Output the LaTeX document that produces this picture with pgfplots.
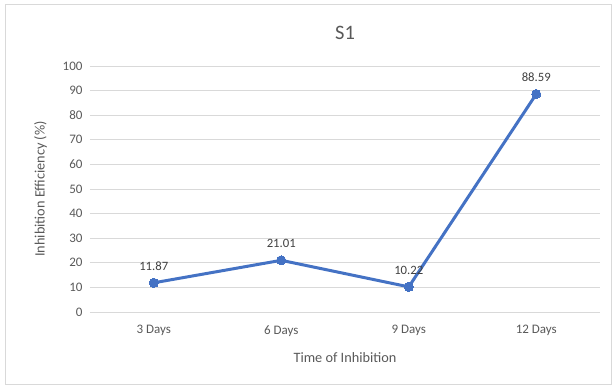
\documentclass[border=0pt]{standalone}
\usepackage{pgfplots}
\pgfplotsset{compat=1.18}
\usepackage{fontspec}
\setmainfont{Carlito}
\definecolor{lineblue}{HTML}{4472C4}
\definecolor{gridgray}{HTML}{D9D9D9}
\definecolor{textgray}{HTML}{595959}
\definecolor{labelgray}{HTML}{404040}
\begin{document}
\begin{tikzpicture}
\begin{axis}[
  scale only axis,
  width=510pt, height=246pt,
  xmin=-0.5, xmax=3.5,
  ymin=0, ymax=100,
  ytick={0,10,...,100},
  xtick={0,1,2,3},
  xticklabels={3 Days,6 Days,9 Days,12 Days},
  axis line style={draw=none},
  major tick length=0pt,
  ymajorgrids,
  grid style={gridgray, line width=0.9pt},
  tick label style={font=\fontsize{13}{15}\selectfont, text=textgray},
  /pgf/number format/assume math mode=true,
  yticklabel style={xshift=-4pt},
  xticklabel style={yshift=-10pt},
  xlabel={Time of Inhibition},
  ylabel={Inhibition Efficiency (\%)},
  label style={font=\fontsize{14.3}{16}\selectfont, text=textgray},
  xlabel style={yshift=-9pt},
  ylabel style={yshift=9pt},
  title={S1},
  title style={font=\fontsize{20.5}{22}\selectfont, text=textgray, yshift=17pt},
  clip=false,
  nodes near coords={\pgfmathprintnumber[fixed,fixed zerofill,precision=2]{\pgfplotspointmeta}},
  every node near coord/.append style={font=\fontsize{12.7}{14}\selectfont, text=labelgray, anchor=south, yshift=9pt},
]
\addplot[lineblue, line width=3pt, mark=*, mark size=4.6pt, mark options={fill=lineblue, draw=lineblue, line width=0pt}]
  coordinates {(0,11.87) (1,21.01) (2,10.22) (3,88.59)};
\draw[gridgray, line width=0.8pt] ([shift={(-85pt,-72pt)}]rel axis cs:0,0) rectangle ([shift={(11pt,62pt)}]rel axis cs:1,1);
\path ([shift={(-90pt,-74pt)}]rel axis cs:0,0) rectangle ([shift={(12pt,66pt)}]rel axis cs:1,1);
\end{axis}
\end{tikzpicture}
\end{document}
